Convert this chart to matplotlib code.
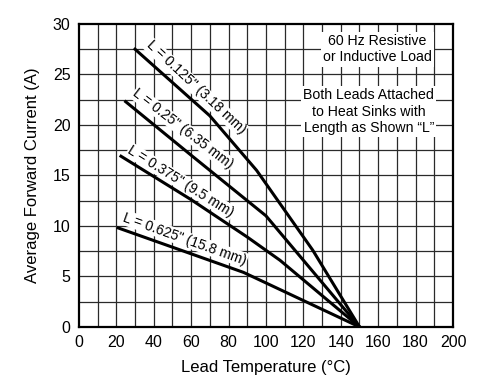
import matplotlib
matplotlib.use("Agg")
import matplotlib.pyplot as plt
import numpy as np

plt.rcParams['font.family'] = ['Liberation Sans', 'DejaVu Sans']

# Data (lead temperature in °C, average forward current in A)
t_0125 = [30, 70, 95, 125, 150]
i_0125 = [27.5, 20.9, 15.5, 7.6, 0.0]

t_025 = [25, 60, 100, 150]
i_025 = [22.3, 17.0, 11.0, 0.0]

t_0375 = [22.5, 60, 90, 107.5, 150]
i_0375 = [16.9, 12.6, 8.9, 6.6, 0.0]

t_0625 = [21, 88, 150]
i_0625 = [9.8, 5.4, 0.0]

labels = ['L = 0.125" (3.18 mm)', 'L = 0.25" (6.35 mm)',
          'L = 0.375" (9.5 mm)', 'L = 0.625" (15.8 mm)']
label_x = [62.6, 55.6, 54.5, 56.7]
label_y = [23.7, 19.6, 14.4, 8.7]
label_rot = [-43, -37.5, -32, -19.7]

x_ticks = list(range(0, 201, 20))
y_ticks = list(range(0, 31, 5))

fig = plt.figure(figsize=(4.84, 3.92), dpi=100)
ax = fig.add_axes([0.163, 0.166, 0.773, 0.773])

ax.set_xlim(0, 200)
ax.set_ylim(0, 30)

# grid
for gx in np.arange(10, 200, 10):
    ax.axvline(gx, color='#2a2a2a', lw=0.9, zorder=1)
for gy in np.arange(2.5, 30, 2.5):
    ax.axhline(gy, color='#2a2a2a', lw=0.9, zorder=1)

for t, i in [(t_0125, i_0125), (t_025, i_025), (t_0375, i_0375), (t_0625, i_0625)]:
    ax.plot(t, i, color='black', lw=2.2, zorder=3, solid_joinstyle='round')

for s, x, y, r in zip(labels, label_x, label_y, label_rot):
    ax.text(x, y, s, rotation=r, ha='center', va='center', fontsize=10,
            rotation_mode='anchor', zorder=4,
            bbox=dict(facecolor='white', edgecolor='none', pad=0.5))

ax.text(159.6, 27.5, "60 Hz Resistive\nor Inductive Load", ha='center', va='center',
        fontsize=10.2, linespacing=1.23, zorder=4,
        bbox=dict(facecolor='white', edgecolor='none', pad=1.5))
ax.text(155, 21.3, "Both Leads Attached\nto Heat Sinks with\nLength as Shown \u201cL\u201d",
        ha='center', va='center', fontsize=10.2, linespacing=1.23, zorder=4,
        bbox=dict(facecolor='white', edgecolor='none', pad=1.5))

ax.set_xticks(x_ticks)
ax.set_yticks(y_ticks)
ax.tick_params(length=0, labelsize=11.5, pad=6)
for sp in ax.spines.values():
    sp.set_linewidth(1.6)
    sp.set_zorder(5)

ax.set_xlabel("Lead Temperature (°C)", fontsize=12, labelpad=7)
ax.set_ylabel("Average Forward Current (A)", fontsize=12, labelpad=9)

fig.savefig("out.png", dpi=100)
